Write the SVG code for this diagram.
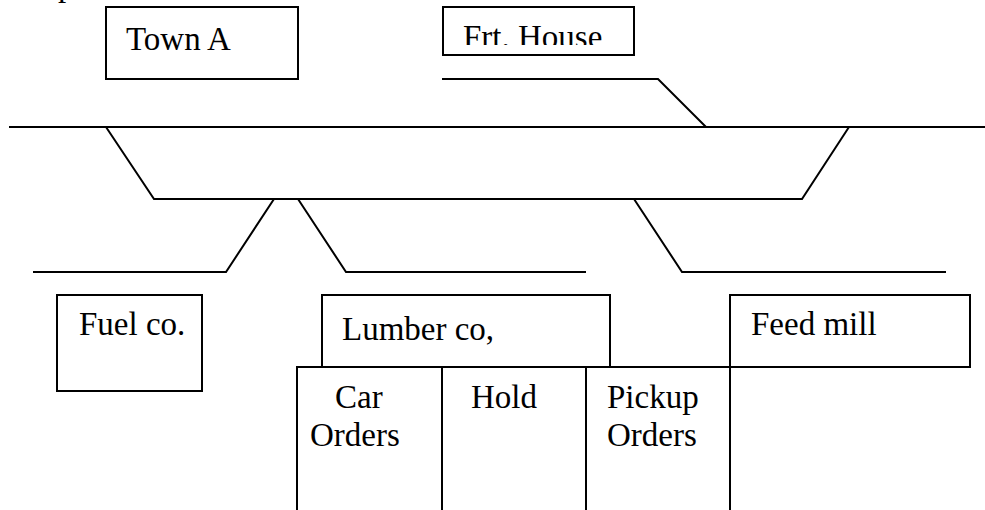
<svg xmlns="http://www.w3.org/2000/svg" width="985" height="510" viewBox="0 0 985 510">
<style>
.box{fill:#fff;stroke:#000;stroke-width:2}
.ln{fill:none;stroke:#000;stroke-width:2;stroke-linejoin:miter}
.t{font-family:"Liberation Serif","Times New Roman",serif;font-size:33px;fill:#000}
</style>
<defs>
<clipPath id="frtclip"><rect x="443" y="8" width="190" height="37"/></clipPath>
</defs>
<rect width="985" height="510" fill="#fff"/>
<text class="t" x="58" y="-4">p</text>
<g id="tracks">
<polyline class="ln" points="9,127 985,127"/>
<polyline class="ln" points="442,79 658,79 706,127"/>
<polyline class="ln" points="106,127 154,199 802,199 849,127"/>
<polyline class="ln" points="33,272 226,272 274,199"/>
<polyline class="ln" points="298,199 346,272 586,272"/>
<polyline class="ln" points="634,199 682,272 946,272"/>
</g>
<g id="town-a">
<rect class="box" x="106" y="7" width="192" height="72"/>
<text class="t" x="126" y="50">Town A</text>
</g>
<g id="frt-house">
<rect class="box" x="443" y="7" width="191" height="48"/>
<text class="t" x="463" y="48" clip-path="url(#frtclip)">Frt. House</text>
</g>
<g id="fuel-co">
<rect class="box" x="57" y="295" width="145" height="96"/>
<text class="t" x="79" y="335">Fuel co.</text>
</g>
<g id="lumber-co">
<rect class="box" x="322" y="295" width="288" height="72"/>
<text class="t" x="342" y="340">Lumber co,</text>
</g>
<g id="feed-mill">
<rect class="box" x="730" y="295" width="240" height="72"/>
<text class="t" x="751" y="335">Feed mill</text>
</g>
<g id="order-table">
<polyline class="ln" points="297,510 297,367 970,367"/>
<line class="ln" x1="442" y1="367" x2="442" y2="510"/>
<line class="ln" x1="586" y1="367" x2="586" y2="510"/>
<line class="ln" x1="730" y1="295" x2="730" y2="510"/>
</g>
<g id="car-orders">
<text class="t" x="335" y="408">Car</text>
<text class="t" x="310" y="446">Orders</text>
</g>
<g id="hold">
<text class="t" x="471" y="408">Hold</text>
</g>
<g id="pickup-orders">
<text class="t" x="607" y="408">Pickup</text>
<text class="t" x="607" y="446">Orders</text>
</g>
</svg>
